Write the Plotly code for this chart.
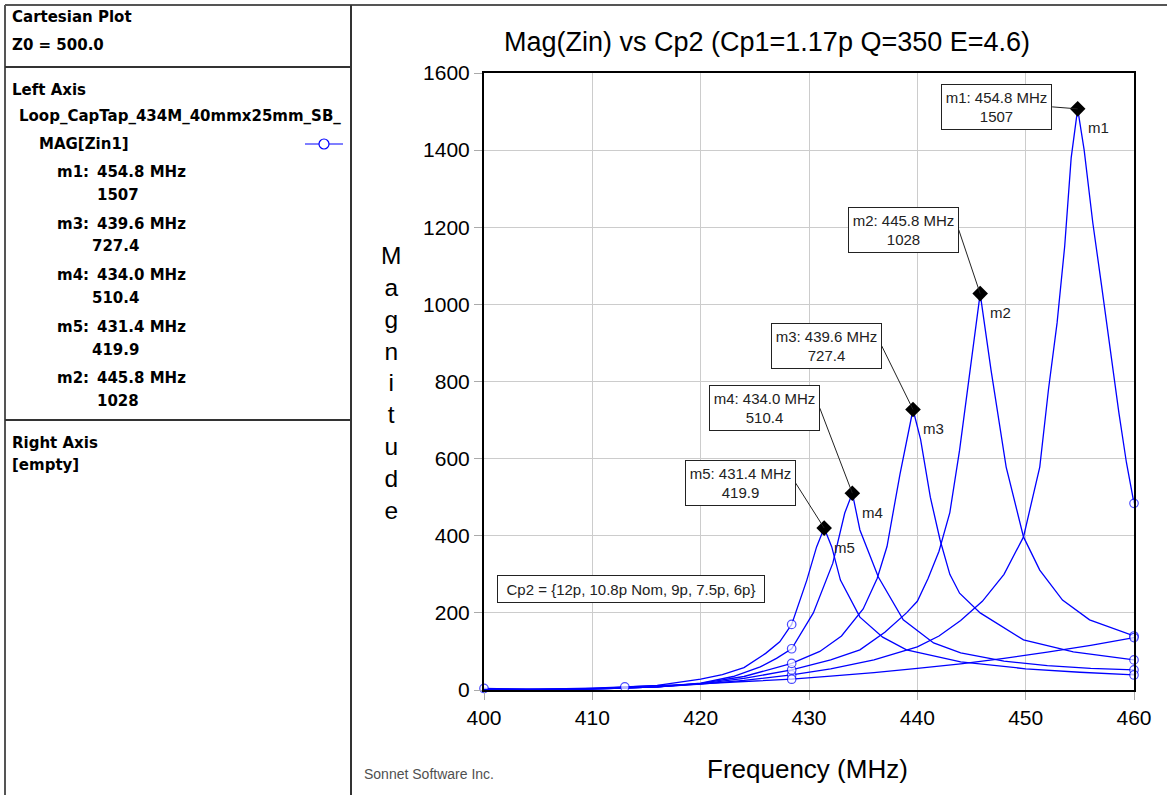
import plotly.graph_objects as go

# ---------------- data ----------------
freq_m1 = [400, 404, 408, 412, 416, 420, 424, 428.4, 432, 436, 440, 442, 444, 446, 448, 449.8,
           451.3, 452.1, 452.9, 453.6, 454.2, 454.8, 455.4, 456.2, 457.0, 457.8, 458.6, 459.3, 460]
mag_m1 = [2, 1, 2, 4, 8, 15, 25, 39, 55, 78, 112, 140, 180, 230, 300, 397,
          578, 778, 952, 1150, 1380, 1507, 1400, 1211, 1050, 880, 720, 590, 484]

freq_m2 = [400, 404, 408, 412, 416, 420, 424, 428.4, 432, 434.7, 437, 439, 440, 441, 442, 443,
           443.9, 444.9, 445.8, 446.8, 448.2, 449.8, 451.3, 453.4, 455.9, 460]
mag_m2 = [2, 1, 2, 4, 8, 16, 30, 52, 78, 104, 150, 200, 230, 290, 360, 460,
          622, 830, 1028, 830, 578, 397, 311, 233, 182, 140]

freq_m3 = [400, 404, 408, 412, 416, 420, 424, 428.4, 431, 433, 435, 436.3, 437.2, 438.4, 439.6,
           440.3, 441.2, 442.1, 443, 443.9, 445.8, 449.8, 454.4, 460]
mag_m3 = [1, 1, 2, 4, 8, 17, 35, 69, 100, 140, 210, 290, 372, 560, 727.4,
          650, 500, 389, 300, 251, 200, 130, 99, 78]

freq_m4 = [400, 404, 408, 412, 416, 420, 423, 425.5, 427, 428.4, 430.4, 432.2, 433.3, 434.0,
           434.7, 436.4, 438.7, 441.5, 444, 448, 452, 456, 460]
mag_m4 = [1, 1, 2, 4, 8, 18, 35, 60, 82, 107, 200, 329, 459, 510.4,
          415, 293, 182, 122, 96, 75, 63, 56, 52]

freq_m5 = [400, 402, 404, 406, 408, 412, 416, 420, 422, 424, 426, 427.3, 428.4, 429.8, 430.7,
           431.4, 432.1, 432.9, 434.7, 436.8, 439, 444, 450, 455, 460]
mag_m5 = [4, 3, 1, 0.5, 2, 6, 12, 28, 40, 58, 95, 125, 170, 285, 371,
          419.9, 371, 285, 189, 137, 104, 73, 55, 46, 39]

freq_c6 = [400, 405, 410, 413, 416, 420, 424, 428.4, 432, 436, 440, 444, 448, 452, 456, 460]
mag_c6 = [1, 2, 5, 8, 11, 16, 22, 28, 36, 45, 56, 68, 82, 98, 116, 136]

# frequencies where a curve carries its open-circle symbol
symbols_m1 = [428.4, 460]
symbols_m2 = [428.4, 460]
symbols_m3 = [428.4, 460]
symbols_m4 = [428.4, 460]
symbols_m5 = [400, 428.4, 460]
symbols_c6 = [413, 428.4, 460]

marker_names = ["m1", "m2", "m3", "m4", "m5"]
marker_freq = [454.8, 445.8, 439.6, 434.0, 431.4]
marker_mag = [1507, 1028, 727.4, 510.4, 419.9]

panel_order = ["m1", "m3", "m4", "m5", "m2"]

x_ticks = [400, 410, 420, 430, 440, 450, 460]
y_ticks = [0, 200, 400, 600, 800, 1000, 1200, 1400, 1600]

title_text = "Mag(Zin) vs Cp2 (Cp1=1.17p Q=350 E=4.6)"
cp2_text = "Cp2 = {12p, 10.8p Nom, 9p, 7.5p, 6p}"

# ---------------- layout geometry ----------------
W, H = 1167, 795
ML, MR, MT, MB = 484, 33, 73, 105
PW = W - ML - MR
PH = H - MT - MB


def px2x(px):
    return (px - ML) / PW


def py2y(py):
    return (MT + PH - py) / PH


BLUE = "#0000ff"
AXFONT = "Liberation Sans, Arial, sans-serif"
PANELFONT = "DejaVu Sans, Tahoma, sans-serif"

fig = go.Figure()

curves = [
    (freq_m1, mag_m1, symbols_m1),
    (freq_m2, mag_m2, symbols_m2),
    (freq_m3, mag_m3, symbols_m3),
    (freq_m4, mag_m4, symbols_m4),
    (freq_m5, mag_m5, symbols_m5),
    (freq_c6, mag_c6, symbols_c6),
]
for f, m, syms in curves:
    sizes = [8.5 if fv in syms else 0 for fv in f]
    fig.add_trace(go.Scatter(
        x=f, y=m, mode="lines+markers",
        line=dict(color=BLUE, width=1.3),
        marker=dict(symbol="circle", size=sizes, color="white",
                    line=dict(color=BLUE, width=1.2)),
        showlegend=False, cliponaxis=False, hoverinfo="skip"))

fig.add_trace(go.Scatter(
    x=marker_freq, y=marker_mag, mode="markers",
    marker=dict(symbol="diamond", size=12, color="black"),
    showlegend=False, cliponaxis=False, hoverinfo="skip"))

# box offsets (pixels, screen coords relative to marker) for marker readouts
box_offsets = {"m1": (-81, -2), "m2": (-77, -64), "m3": (-87, -64),
               "m4": (-88, -85), "m5": (-84, -45)}
BOX_HALF_W = 55.5

annotations = []
shapes = []
for name, f, m in zip(marker_names, marker_freq, marker_mag):
    dx, dy = box_offsets[name]
    shapes.append(dict(type="line", xref="x", yref="y",
                       xsizemode="pixel", ysizemode="pixel",
                       xanchor=f, yanchor=m,
                       x0=0, y0=0, x1=dx + BOX_HALF_W, y1=-dy,
                       line=dict(color="#222222", width=1)))
    annotations.append(dict(
        x=f, y=m, xref="x", yref="y", showarrow=False,
        xshift=dx, yshift=-dy, xanchor="center", yanchor="middle",
        text=f"{name}: {f:.1f} MHz<br>{m:g}",
        font=dict(family=AXFONT, size=15, color="#222222"),
        bgcolor="white", bordercolor="#222222", borderwidth=1, borderpad=3,
        width=103, height=38, align="center"))
    annotations.append(dict(
        x=f, y=m, xref="x", yref="y", showarrow=False,
        xanchor="left", yanchor="middle", xshift=8, yshift=-19,
        text=name, font=dict(family=AXFONT, size=15, color="#222222")))

# Cp2 box
annotations.append(dict(
    x=px2x(631), y=py2y(589), xref="paper", yref="paper", showarrow=False,
    xanchor="center", yanchor="middle",
    text=cp2_text, font=dict(family=AXFONT, size=15, color="#222222"),
    bgcolor="white", bordercolor="#222222", borderwidth=1, borderpad=3,
    width=260, height=20))

# title and axis labels
annotations.append(dict(
    x=px2x(767), y=py2y(42), xref="paper", yref="paper", showarrow=False,
    text=title_text, font=dict(family=AXFONT, size=27, color="black"),
    xanchor="center", yanchor="middle"))
annotations.append(dict(
    x=px2x(807), y=py2y(769), xref="paper", yref="paper", showarrow=False,
    text="Frequency (MHz)", font=dict(family=AXFONT, size=26, color="black"),
    xanchor="center", yanchor="middle"))
annotations.append(dict(
    x=px2x(391), y=py2y(383), xref="paper", yref="paper", showarrow=False,
    text="<br>".join(list("Magnitude")),
    font=dict(family=AXFONT, size=24.5, color="black"),
    xanchor="center", yanchor="middle"))
annotations.append(dict(
    x=px2x(362), y=py2y(774), xref="paper", yref="paper", showarrow=False,
    text="Sonnet Software Inc.", font=dict(family=AXFONT, size=14, color="#505050"),
    xanchor="left", yanchor="middle"))

# ---------------- left info panel ----------------
def panel_text(px, py, text, anchor="left"):
    annotations.append(dict(
        x=px2x(px), y=py2y(py), xref="paper", yref="paper", showarrow=False,
        text=text, xanchor=anchor, yanchor="middle",
        font=dict(family=PANELFONT, size=15, color="black", weight="bold")))


panel_text(10, 17, "Cartesian Plot")
panel_text(10, 45, "Z0 = 500.0")
panel_text(10, 90, "Left Axis")
panel_text(17, 116, "Loop_CapTap_434M_40mmx25mm_SB_")
panel_text(37, 144, "MAG[Zin1]")
row_y = 172
for name in panel_order:
    i = marker_names.index(name)
    panel_text(55, row_y, f"{name}:")
    panel_text(95, row_y, f"{marker_freq[i]:.1f} MHz")
    panel_text(141, row_y + 23, f"{marker_mag[i]:g}", anchor="right")
    row_y += 51.5
panel_text(10, 443, "Right Axis")
panel_text(10, 465, "[empty]")

# legend symbol
shapes.append(dict(type="line", xref="paper", yref="paper",
                   x0=px2x(305), x1=px2x(343), y0=py2y(144), y1=py2y(144),
                   line=dict(color=BLUE, width=1.2)))
shapes.append(dict(type="circle", xref="paper", yref="paper",
                   x0=px2x(319), x1=px2x(329), y0=py2y(139), y1=py2y(149),
                   fillcolor="white", line=dict(color=BLUE, width=1.2)))

# panel frame lines
PANEL_LINE = "#333333"
shapes += [
    dict(type="line", xref="paper", yref="paper", x0=px2x(5), x1=px2x(W),
         y0=py2y(5), y1=py2y(5), line=dict(color="#555555", width=2)),
    dict(type="line", xref="paper", yref="paper", x0=px2x(5), x1=px2x(5),
         y0=py2y(5), y1=py2y(H), line=dict(color="#555555", width=2)),
    dict(type="line", xref="paper", yref="paper", x0=px2x(351), x1=px2x(351),
         y0=py2y(5), y1=py2y(H), line=dict(color=PANEL_LINE, width=2)),
    dict(type="line", xref="paper", yref="paper", x0=px2x(5), x1=px2x(351),
         y0=py2y(67), y1=py2y(67), line=dict(color=PANEL_LINE, width=2)),
    dict(type="line", xref="paper", yref="paper", x0=px2x(5), x1=px2x(351),
         y0=py2y(420), y1=py2y(420), line=dict(color=PANEL_LINE, width=2)),
]

axis_common = dict(
    showgrid=True, gridcolor="#cccccc", gridwidth=1,
    showline=True, linecolor="black", linewidth=2, mirror=True,
    ticks="outside", ticklen=8, tickcolor="#aaaaaa", tickwidth=1,
    tickfont=dict(family=AXFONT, size=21, color="black"),
    zeroline=False, fixedrange=True)

fig.update_layout(
    width=W, height=H,
    margin=dict(l=ML, r=MR, t=MT, b=MB, pad=0),
    paper_bgcolor="white", plot_bgcolor="white",
    xaxis=dict(range=[400, 460], tickvals=x_ticks, **axis_common),
    yaxis=dict(range=[0, 1600], tickvals=y_ticks, **axis_common),
    annotations=annotations, shapes=shapes, showlegend=False)

fig.write_html("out.html")
